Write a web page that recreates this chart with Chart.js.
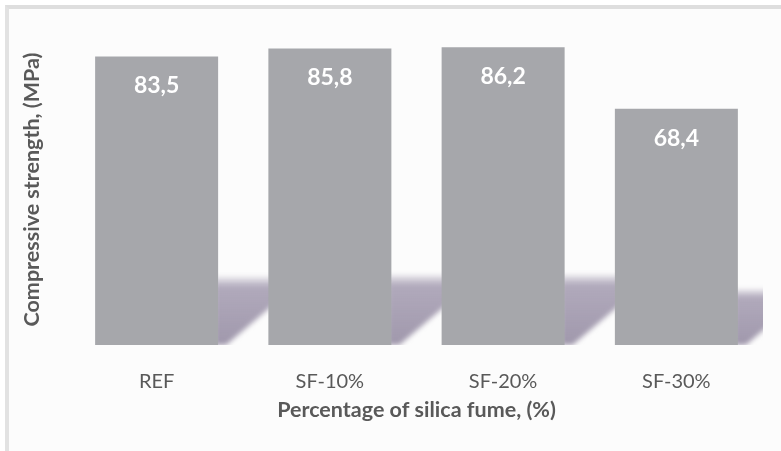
<!DOCTYPE html>
<html>
<head>
<meta charset="utf-8">
<script src="https://cdn.jsdelivr.net/npm/chart.js@4"></script>
<style>
  html, body { margin: 0; padding: 0; background: #ffffff; }
  #frame {
    position: absolute; left: 5px; top: 5px; width: 776px; height: 446px;
    background: #fcfcfc;
    border-left: 4px solid #e2e2e2; border-top: 4px solid #dedede;
    box-sizing: border-box;
  }
  #c { position: absolute; left: 0; top: 0; }
</style>
</head>
<body>
<div id="frame"></div>
<canvas id="c" width="781" height="451"></canvas>
<script>
// Compressive strength of mixes with silica fume replacement
const categories = ['REF', 'SF-10%', 'SF-20%', 'SF-30%'];
const strengthMPa = [83.5, 85.8, 86.2, 68.4];
const yAxisTitle = 'Compressive strength, (MPa)';
const xAxisTitle = 'Percentage of silica fume, (%)';

const FONT = 'Lato, "Open Sans", "DejaVu Sans", sans-serif';
const TEXT_GREY = '#595959';
const BAR_GREY = '#a6a7ab';

const fmt = v => v.toFixed(1).replace('.', ',');

// Slanted perspective shadow behind each bar
const barShadows = {
  id: 'barShadows',
  beforeDatasetsDraw(chart) {
    const { ctx, chartArea } = chart;
    const meta = chart.getDatasetMeta(0);
    ctx.save();
    ctx.beginPath();
    ctx.rect(chartArea.left, chartArea.top, chartArea.right - chartArea.left, chartArea.bottom - chartArea.top);
    ctx.clip();
    ctx.filter = 'blur(2.5px)';
    meta.data.forEach(bar => {
      const right = bar.x + bar.width / 2;
      const base = bar.base;
      const h = (base - bar.y) * 0.237;
      const top = base - h;
      const slope = 0.85;
      const g = ctx.createLinearGradient(0, top, 0, base);
      g.addColorStop(0, 'rgba(172,164,184,0.2)');
      g.addColorStop(0.15, 'rgba(168,160,180,0.9)');
      g.addColorStop(1, 'rgba(160,152,172,1)');
      ctx.fillStyle = g;
      ctx.beginPath();
      ctx.moveTo(right - 4, top);
      ctx.lineTo(right + 8 + h / slope, top);
      ctx.lineTo(right + 8, base);
      ctx.lineTo(right - 4, base);
      ctx.closePath();
      ctx.fill();
    });
    ctx.restore();
  }
};

// Value written inside the top of each bar
const valueLabels = {
  id: 'valueLabels',
  afterDatasetsDraw(chart) {
    const { ctx } = chart;
    const ds = chart.data.datasets[0];
    const meta = chart.getDatasetMeta(0);
    ctx.save();
    ctx.font = 'bold 23px ' + FONT;
    ctx.fillStyle = '#ffffff';
    ctx.textAlign = 'center';
    ctx.textBaseline = 'middle';
    meta.data.forEach((bar, i) => {
      ctx.fillText(fmt(ds.data[i]), bar.x, bar.y + 29.5);
    });
    ctx.restore();
  }
};

new Chart(document.getElementById('c'), {
  type: 'bar',
  data: {
    labels: categories,
    datasets: [{
      data: strengthMPa,
      backgroundColor: BAR_GREY,
      borderWidth: 0,
      categoryPercentage: 1.0,
      barPercentage: 0.71
    }]
  },
  options: {
    responsive: false,
    animation: false,
    devicePixelRatio: 1,
    layout: { padding: { top: 34, right: 18, bottom: 0, left: 9 } },
    plugins: { legend: { display: false }, tooltip: { enabled: false } },
    scales: {
      x: {
        grid: { display: false, drawTicks: false },
        border: { display: false },
        ticks: { color: TEXT_GREY, font: { family: FONT, size: 20 }, padding: 25 },
        title: {
          display: true, text: xAxisTitle, color: TEXT_GREY,
          font: { family: FONT, size: 21.5, weight: 'bold' },
          padding: { top: 0, bottom: 28 }
        },
        afterFit(scale) { scale.height = 106; }
      },
      y: {
        min: 0, max: 90,
        grid: { display: false, drawTicks: false },
        border: { display: false },
        ticks: { display: false },
        title: {
          display: true, text: yAxisTitle, color: TEXT_GREY,
          font: { family: FONT, size: 21.5, weight: 'bold' },
          padding: { top: 10, bottom: 0 }
        },
        afterFit(scale) { scale.width = 61; }
      }
    }
  },
  plugins: [barShadows, valueLabels]
});
</script>
</body>
</html>
